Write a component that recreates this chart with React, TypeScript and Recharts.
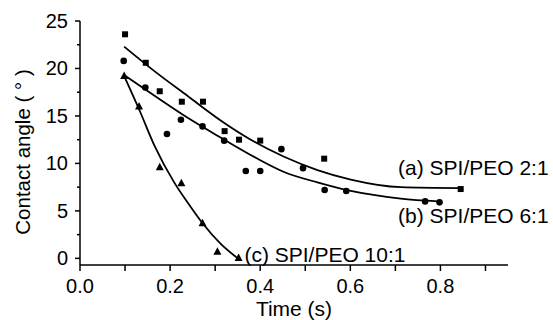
import { ComposedChart, Line, Scatter, XAxis, YAxis } from 'recharts';

const timesA = [0.1, 0.146, 0.177, 0.226, 0.273, 0.321, 0.353, 0.4, 0.542, 0.845];
const anglesA = [23.6, 20.6, 17.6, 16.5, 16.5, 13.4, 12.5, 12.4, 10.5, 7.3];

const timesB = [0.097, 0.145, 0.193, 0.224, 0.272, 0.32, 0.368, 0.4, 0.447, 0.495, 0.543, 0.591, 0.766, 0.798];
const anglesB = [20.8, 18.0, 13.1, 14.6, 13.9, 12.4, 9.2, 9.2, 11.5, 9.5, 7.2, 7.1, 6.0, 5.9];

const timesC = [0.098, 0.131, 0.177, 0.225, 0.272, 0.305, 0.352];
const anglesC = [19.2, 16.0, 9.6, 7.9, 3.7, 0.7, 0.05];

// fitted curves
const fitTimesA = [0.098, 0.163, 0.239, 0.313, 0.379, 0.453, 0.527, 0.601, 0.712, 0.845];
const fitAnglesA = [22.3, 19.8, 17.1, 14.5, 12.5, 10.7, 9.3, 8.3, 7.5, 7.4];

const fitTimesB = [0.098, 0.163, 0.239, 0.313, 0.39, 0.453, 0.527, 0.601, 0.712, 0.796];
const fitAnglesB = [19.3, 17.2, 14.8, 12.7, 10.6, 9.1, 8.0, 7.1, 6.3, 6.0];

const fitTimesC = [0.098, 0.132, 0.165, 0.209, 0.24, 0.272, 0.313, 0.353];
const fitAnglesC = [19.2, 15.6, 11.9, 8.0, 5.8, 3.7, 1.5, -0.1];

const xTicks = [0, 0.1, 0.2, 0.3, 0.4, 0.5, 0.6, 0.7, 0.8, 0.9];
const yTicks = [0, 2.5, 5, 7.5, 10, 12.5, 15, 17.5, 20, 22.5, 25];

const annotations = [
  { x: 0.706, y: 8.8, text: '(a) SPI/PEO 2:1' },
  { x: 0.706, y: 3.7, text: '(b) SPI/PEO 6:1' },
  { x: 0.365, y: -0.4, text: '(c) SPI/PEO 10:1' },
];

const zip = (xs: number[], ys: number[]) => xs.map((x, i) => ({ x, y: ys[i] }));

const FONT = '"Liberation Sans", Arial, sans-serif';

const XTick = ({ x, y, payload }: any) => {
  const major = Math.round(payload.value * 10) % 2 === 0;
  return (
    <g>
      <line x1={x} x2={x} y1={y} y2={y + 6} stroke='#000' strokeWidth={1.5} />
      {major && (
        <text x={x} y={y + 28} textAnchor='middle' fontSize={20} fontFamily={FONT} fill='#000'>
          {payload.value.toFixed(1)}
        </text>
      )}
    </g>
  );
};

const YTick = ({ x, y, payload }: any) => {
  const major = payload.value % 5 === 0;
  return (
    <g>
      <line x1={x - (major ? 5 : 3)} x2={x} y1={y} y2={y} stroke='#000' strokeWidth={1.5} />
      {major && (
        <text x={x - 12} y={y + 7} textAnchor='end' fontSize={20} fontFamily={FONT} fill='#000'>
          {payload.value}
        </text>
      )}
    </g>
  );
};

const squareShape = ({ cx, cy }: any) => <rect x={cx - 3} y={cy - 3} width={6} height={6} fill='#000' />;
const circleShape = ({ cx, cy }: any) => <circle cx={cx} cy={cy} r={3.3} fill='#000' />;
const triangleShape = ({ cx, cy }: any) => (
  <polygon points={`${cx},${cy - 4.5} ${cx - 4},${cy + 3} ${cx + 4},${cy + 3}`} fill='#000' />
);
const textShape = ({ cx, cy, payload }: any) => (
  <text x={cx} y={cy} fontSize={21} fontFamily={FONT} fill='#000'>
    {payload.text}
  </text>
);

const YTitle = () => (
  <text
    x={22}
    y={152}
    transform='rotate(-90 22 152)'
    textAnchor='middle'
    dominantBaseline='central'
    fontSize={20.5}
    fontFamily={FONT}
    fill='#000'
  >
    Contact angle ( ° )
  </text>
);

export default function App() {
  return (
    <div style={{ position: 'absolute', left: 0, top: 0, width: 553, height: 320, background: '#fff' }}>
      <ComposedChart width={553} height={320} margin={{ top: 21, right: 45, bottom: 0, left: 0 }}>
        <XAxis
          type='number'
          dataKey='x'
          domain={[0, 0.95]}
          ticks={xTicks}
          interval={0}
          tickSize={0}
          tickMargin={0}
          tickLine={false}
          tick={<XTick />}
          height={55}
          axisLine={{ stroke: '#000', strokeWidth: 1.5 }}
          label={{ value: 'Time (s)', position: 'insideBottom', offset: 4, fontSize: 21, fontFamily: FONT, fill: '#000' }}
        />
        <YAxis
          type='number'
          dataKey='y'
          domain={[-0.7, 25]}
          ticks={yTicks}
          interval={0}
          tickSize={0}
          tickMargin={0}
          tickLine={false}
          tick={<YTick />}
          width={80}
          axisLine={{ stroke: '#000', strokeWidth: 1.5 }}
          label={{ content: () => <YTitle /> }}
        />
        <Line data={zip(fitTimesA, fitAnglesA)} dataKey='y' type='monotone' stroke='#000' strokeWidth={1.8} dot={false} isAnimationActive={false} />
        <Line data={zip(fitTimesB, fitAnglesB)} dataKey='y' type='monotone' stroke='#000' strokeWidth={1.8} dot={false} isAnimationActive={false} />
        <Line data={zip(fitTimesC, fitAnglesC)} dataKey='y' type='monotone' stroke='#000' strokeWidth={1.8} dot={false} isAnimationActive={false} />
        <Scatter data={zip(timesA, anglesA)} dataKey='y' shape={squareShape} isAnimationActive={false} />
        <Scatter data={zip(timesB, anglesB)} dataKey='y' shape={circleShape} isAnimationActive={false} />
        <Scatter data={zip(timesC, anglesC)} dataKey='y' shape={triangleShape} isAnimationActive={false} />
        <Scatter data={annotations} dataKey='y' shape={textShape} isAnimationActive={false} />
      </ComposedChart>
    </div>
  );
}
